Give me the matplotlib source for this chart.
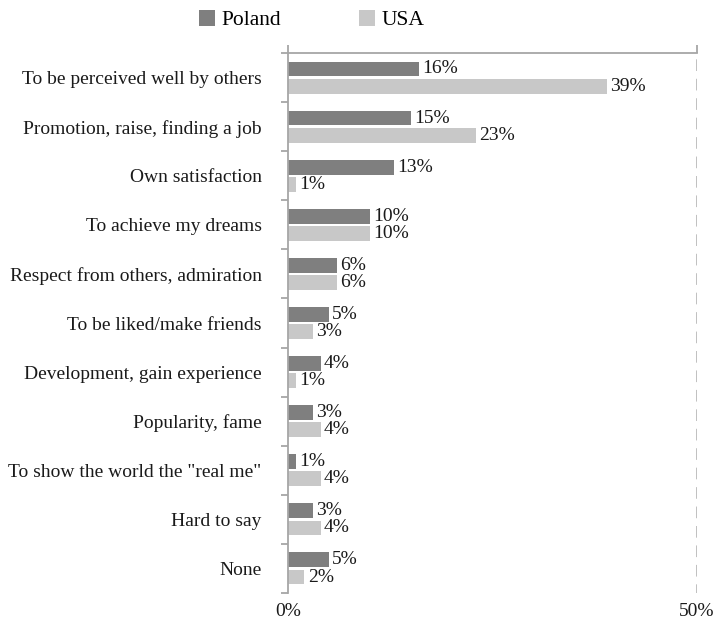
import matplotlib.pyplot as plt
import numpy as np

categories = [
    "To be perceived well by others",
    "Promotion, raise, finding a job",
    "Own satisfaction",
    "To achieve my dreams",
    "Respect from others, admiration",
    "To be liked/make friends",
    "Development, gain experience",
    "Popularity, fame",
    'To show the world the "real me"',
    "Hard to say",
    "None",
]
poland = [16, 15, 13, 10, 6, 5, 4, 3, 1, 3, 5]
usa = [39, 23, 1, 10, 6, 3, 1, 4, 4, 4, 2]

plt.rcParams['font.family'] = ['Liberation Serif', 'DejaVu Serif']
plt.rcParams['font.size'] = 14

c_pl = '#7f7f7f'
c_us = '#c8c8c8'
c_axis = '#a6a6a6'

fig = plt.figure(figsize=(7.2, 6.24), dpi=100)
ax = fig.add_axes([0.4, 0.0497, 0.568, 0.8653])

y = np.arange(len(categories))
off = 0.175
h = 0.3
b1 = ax.barh(y - off, poland, height=h, color=c_pl, label='Poland')
b2 = ax.barh(y + off, usa, height=h, color=c_us, label='USA')

# value labels next to each bar
for bars, vals in ((b1, poland), (b2, usa)):
    for bar, v in zip(bars, vals):
        ax.text(v + 0.4, bar.get_y() + bar.get_height() / 2, f'{v}%',
                va='center', ha='left', color='#1a1a1a')

ax.set_xlim(0, 50)
ax.set_ylim(len(categories) - 0.5, -0.5)

# dashed line at the far end of the value axis
ax.axvline(50, color='#c0c0c0', lw=1.4, dashes=(6, 4), ymin=-0.005, ymax=1)

for s in ('right', 'bottom'):
    ax.spines[s].set_visible(False)
for s in ('top', 'left'):
    ax.spines[s].set_color(c_axis)
    ax.spines[s].set_linewidth(1.3)

ax.set_xticks([0, 50])
ax.set_xticklabels(['0%', '50%'])
ax.tick_params(axis='x', top=True, bottom=False, labeltop=False,
               labelbottom=True, direction='out', length=6, color=c_axis,
               width=1.3, pad=1, labelcolor='#1a1a1a')

ax.set_yticks(y)
ax.set_yticklabels(categories)
ax.set_yticks(np.arange(len(categories) + 1) - 0.5, minor=True)
ax.tick_params(axis='y', which='major', length=0, pad=19, labelcolor='#1a1a1a')
ax.tick_params(axis='y', which='minor', length=5, color=c_axis, width=1.3)

fig.legend(handles=[b1, b2], loc='center', bbox_to_anchor=(0.433, 0.968),
           ncol=2, frameon=False, handlelength=0.75, handleheight=0.75,
           columnspacing=3.6, handletextpad=0.3, fontsize=15.5)

fig.savefig('out.png', dpi=100)
